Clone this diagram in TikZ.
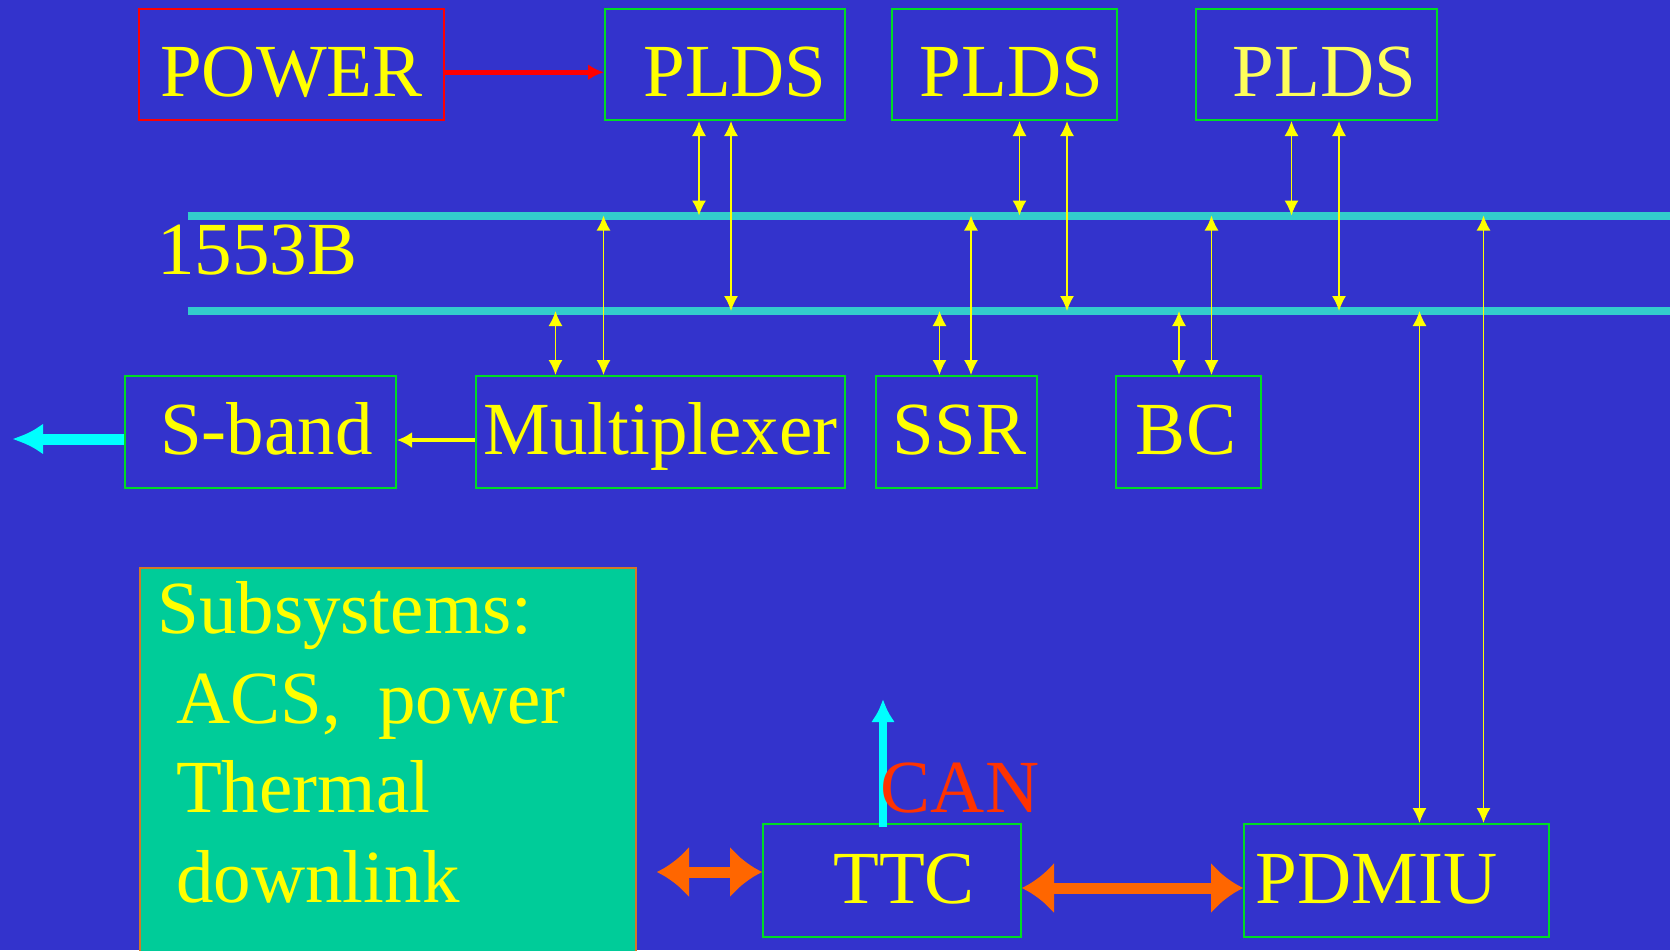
\documentclass[tikz,border=0pt]{standalone}
\usepackage{fontspec}
\setmainfont{Liberation Serif}
\usetikzlibrary{arrows.meta}
\definecolor{bg}{RGB}{51,51,204}
\definecolor{yel}{RGB}{255,255,0}
\definecolor{paleyel}{RGB}{255,255,90}
\definecolor{boxgreen}{RGB}{0,221,34}
\definecolor{buscyan}{RGB}{51,204,204}
\definecolor{arrcyan}{RGB}{0,255,255}
\definecolor{orng}{RGB}{255,102,0}
\definecolor{canred}{RGB}{255,51,0}
\definecolor{subsfill}{RGB}{0,204,153}
\definecolor{subsborder}{RGB}{210,120,40}
\newcommand\diagfont{\fontsize{37.5pt}{44.8pt}\selectfont}
\begin{document}
\begin{tikzpicture}[x=0.5pt,y=-0.5pt,
  box/.style={draw=boxgreen, line width=1pt, inner sep=0pt, anchor=north west, text=yel, font=\diagfont},
  toprow/.style={box, minimum height=55.75pt, text height=31.75pt, text depth=0pt},
  midrow/.style={box, minimum height=56pt, text height=22pt, text depth=0pt},
  botrow/.style={box, minimum height=56.5pt, text height=22.5pt, text depth=0pt},
  bus/.style={draw=buscyan, line width=4pt},
  ydbl/.style={draw=yel, line width=0.8pt, {Latex[length=7.5pt,width=7pt]}-{Latex[length=7.5pt,width=7pt]}},
  ysgl/.style={draw=yel, line width=2pt, -{Latex[length=7.5pt,width=8pt]}},
  redarr/.style={draw=red, line width=2.6pt, -{Latex[length=8pt,width=8pt]}},
  cyanarr/.style={draw=arrcyan, line width=5.5pt, -{Latex[length=15.5pt,width=15.5pt]}},
  canarr/.style={draw=arrcyan, line width=3.7pt, -{Latex[length=11.5pt,width=12pt]}},
  orarr/.style={draw=orng, line width=5.5pt, {Latex[length=16pt,width=26pt]}-{Latex[length=16pt,width=26pt]}},
  txt/.style={text=yel, font=\diagfont, inner sep=0pt}
]
\useasboundingbox (0,0) rectangle (1670,950);
\fill[bg] (0,0) rectangle (1670,950);

% top row
\node[toprow, draw=red, minimum width=152.5pt] (power) at (138,7.5) {POWER};
\node[toprow, minimum width=120pt] (pl1) at (604,7.5) {\hspace*{10pt}PLDS};
\node[toprow, minimum width=112.5pt] (pl2) at (891,7.5) {\hspace*{7pt}PLDS};
\node[toprow, minimum width=120.5pt, text=paleyel] (pl3) at (1195,7.5) {\hspace*{8pt}PLDS};

% middle row
\node[midrow, minimum width=135.5pt] (sband) at (124,375) {\hspace*{6pt}S-band};
\node[midrow, minimum width=184.5pt] (mux) at (475,375) {Multiplexer};
\node[midrow, minimum width=80.5pt] (ssr) at (875,375) {\hspace*{3pt}SSR};
\node[midrow, minimum width=72.5pt] (bc) at (1115,375) {BC\hspace*{2.5pt}};

% subsystems
\node[draw=subsborder, fill=subsfill, line width=1pt, inner sep=0pt, minimum width=248pt, minimum height=200pt, anchor=north west] (subs) at (139,567) {};
\node[txt, anchor=north west, align=left] (substext) at (157,581) {Subsystems:\\~ACS,~~power\\~Thermal\\~downlink};

% bottom row
\node[botrow, minimum width=129pt] (ttc) at (762,823) {\hspace*{12pt}TTC};
\node[botrow, minimum width=152.5pt] (pdmiu) at (1243,823) {PDMIU\hspace*{20pt}};

% bus
\coordinate (b1w) at (187.5,215.5);
\coordinate (b1e) at (1672,215.5);
\coordinate (b2w) at (187.5,311);
\coordinate (b2e) at (1672,311);
\draw[bus] (b1w) -- (b1e);
\draw[bus] (b2w) -- (b2e);
\node[txt, anchor=base west] (lbl1553) at (157,274) {1553B};

% PLDS links
\draw[ydbl] (699,0 |- pl1.south) -- (699,0 |- b1w);
\draw[ydbl] (731,0 |- pl1.south) -- (731,0 |- b2w);
\draw[ydbl] (1019.5,0 |- pl2.south) -- (1019.5,0 |- b1w);
\draw[ydbl] (1067,0 |- pl2.south) -- (1067,0 |- b2w);
\draw[ydbl] (1291.5,0 |- pl3.south) -- (1291.5,0 |- b1w);
\draw[ydbl] (1339,0 |- pl3.south) -- (1339,0 |- b2w);

% middle links
\draw[ydbl] (555.5,0 |- mux.north) -- (555.5,0 |- b2w);
\draw[ydbl] (603.5,0 |- mux.north) -- (603.5,0 |- b1w);
\draw[ydbl] (939.5,0 |- ssr.north) -- (939.5,0 |- b2w);
\draw[ydbl] (971,0 |- ssr.north) -- (971,0 |- b1w);
\draw[ydbl] (1179,0 |- bc.north) -- (1179,0 |- b2w);
\draw[ydbl] (1211.5,0 |- bc.north) -- (1211.5,0 |- b1w);
\draw[ydbl] (1419.5,0 |- pdmiu.north) -- (1419.5,0 |- b2w);
\draw[ydbl] (1483.5,0 |- pdmiu.north) -- (1483.5,0 |- b1w);

% power
\draw[redarr] ([yshift=-4pt]power.east) -- ([yshift=-4pt]pl1.west);

% sband
\draw[ysgl] ([yshift=-4pt]mux.west) -- ([yshift=-4pt]sband.west -| sband.east);
\coordinate (sbout) at (12,439);
\draw[cyanarr] (sband.west |- sbout) -- (sbout);

% TTC
\coordinate (canout) at (883,699);
\draw[canarr] (883,827) -- (canout);
\node[anchor=base, inner sep=0pt, text=canred, font=\diagfont] (can) at (960,812) {CAN};
\coordinate (ttcl) at (657,872);
\draw[orarr] (ttcl) -- (ttcl -| ttc.west);
\draw[orarr] ([yshift=-3.75pt]ttc.east) -- ([yshift=-3.75pt]pdmiu.west);
\end{tikzpicture}
\end{document}
